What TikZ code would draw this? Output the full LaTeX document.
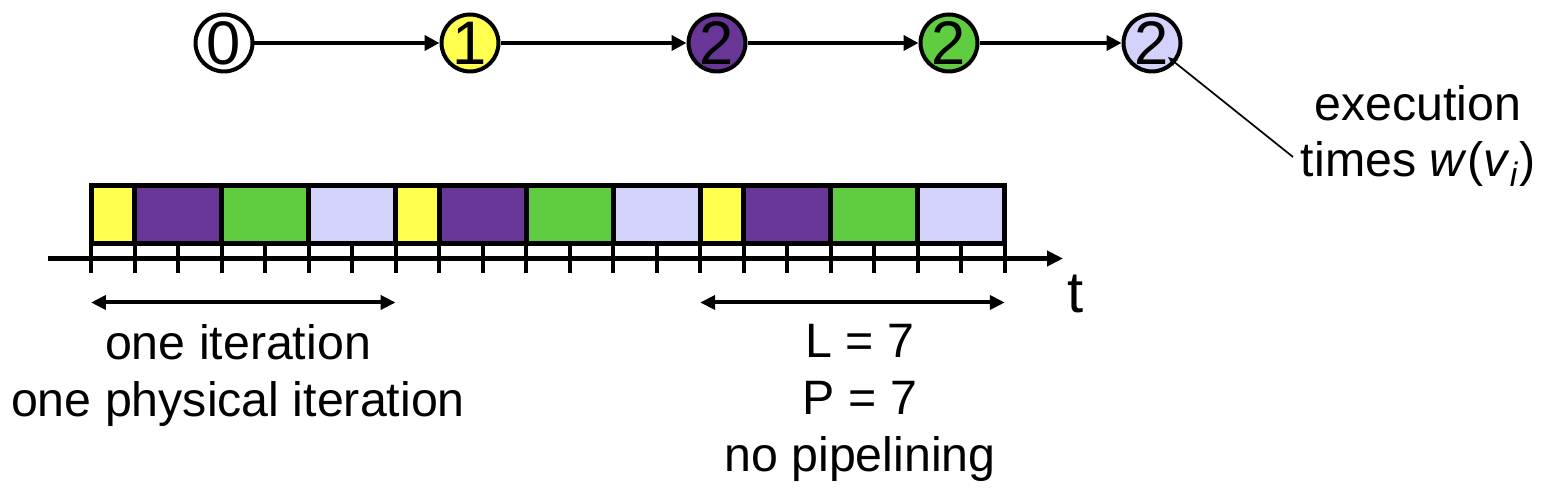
\documentclass[tikz,border=0pt]{standalone}
\usepackage{fontspec}
\setmainfont{Liberation Sans}
\usetikzlibrary{arrows.meta}
\definecolor{slotY}{RGB}{255,255,80}
\definecolor{slotP}{RGB}{104,54,150}
\definecolor{slotG}{RGB}{96,205,64}
\definecolor{slotL}{RGB}{210,210,250}
\tikzset{
  actor/.style={draw,circle,line width=0.08cm,minimum size=1.14cm,inner sep=0pt,font=\fontsize{35}{35}\selectfont},
  edge/.style={line width=0.08cm,-{Triangle[length=0.3cm,width=0.3cm]}},
  slot/.style={draw,line width=0.1cm},
  tick/.style={line width=0.08cm},
  axis/.style={line width=0.09cm,-{Triangle[length=0.32cm,width=0.3cm]}},
  span/.style={line width=0.08cm,{Triangle[length=0.3cm,width=0.28cm]}-{Triangle[length=0.3cm,width=0.28cm]}},
  txt/.style={font=\fontsize{27.5}{32.4}\selectfont,align=center},
}

\begin{document}
\begin{tikzpicture}[x=0.02cm,y=0.02cm]
  \useasboundingbox (0,0) rectangle (1550,-492);
  % dataflow graph
  \node[actor,fill=white] (n0) at (224,-43) {0};
  \node[actor,fill=slotY] (n1) at (470,-43) {1};
  \node[actor,fill=slotP] (n2) at (717,-43) {2};
  \node[actor,fill=slotG] (n3) at (949,-43) {2};
  \node[actor,fill=slotL] (n4) at (1152,-43) {2};
  \draw[edge] (n0) -- (n1);
  \draw[edge] (n1) -- (n2);
  \draw[edge] (n2) -- (n3);
  \draw[edge] (n3) -- (n4);
  \node[txt] (wlab) at (1418,-136) {execution\\times \textit{w}(\textit{v}\textsubscript{\textit{i}})};
  \coordinate (wtip) at (1168,-57);
  \coordinate (wend) at (1293,-157);
  \draw[line width=0.035cm,-{Stealth[length=0.2cm,width=0.16cm]}] (wend) -- (wtip);
  % schedule
  \draw[axis] (48,-258.5) -- (1063,-258.5);
  \begin{scope}[shift={(91,-185.5)},x=0.8704cm]
    \foreach \k in {0,7,14}{
      \draw[slot,fill=slotY] (\k,0) rectangle (\k+1,-58);
      \draw[slot,fill=slotP] (\k+1,0) rectangle (\k+3,-58);
      \draw[slot,fill=slotG] (\k+3,0) rectangle (\k+5,-58);
      \draw[slot,fill=slotL] (\k+5,0) rectangle (\k+7,-58);
    }
    \foreach \i in {0,...,21}
      \draw[tick] (\i,-58) -- (\i,-87.5);
    \coordinate (a0) at (0,-117);
    \coordinate (a1) at (7,-117);
    \coordinate (b0) at (14,-117);
    \coordinate (b1) at (21,-117);
  \end{scope}
  \node[txt,font=\fontsize{33}{33}\selectfont] (tlab) at (1076,-294) {t};
  \draw[span] (a0) -- (a1);
  \draw[span] (b0) -- (b1);
  \node[txt,anchor=north] (itlab) at (238,-318) {one iteration\\one physical iteration};
  \node[txt,anchor=north] (lplab) at (860,-318) {L = 7\\P = 7\\no pipelining};
\end{tikzpicture}
\end{document}
